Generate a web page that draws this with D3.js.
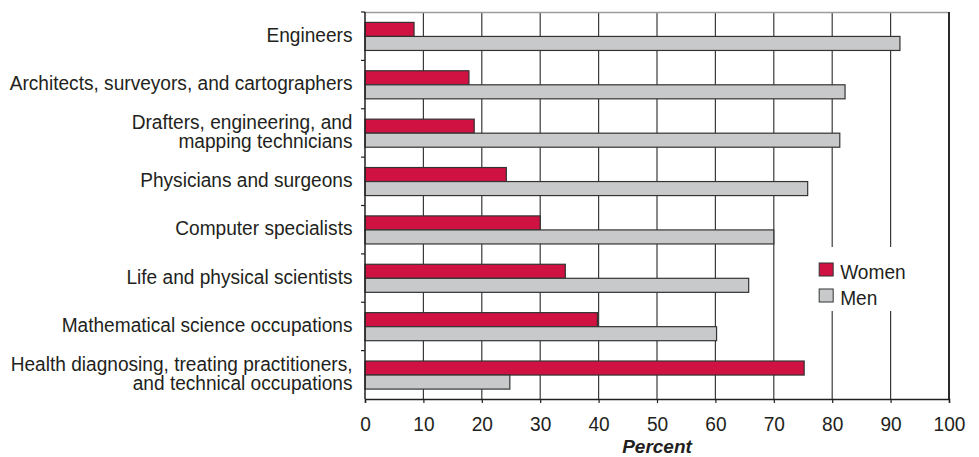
<!DOCTYPE html>
<html>
<head>
<meta charset="utf-8">
<script src="https://cdn.jsdelivr.net/npm/d3@7"></script>
<style>
  body { margin: 0; background: #fff; }
  svg { display: block; }
  text { font-family: "Liberation Sans", Arial, sans-serif; fill: #231f20; }
</style>
</head>
<body>
<div id="chart"></div>
<script>
const categories = [
  "Engineers",
  "Architects, surveyors, and cartographers",
  "Drafters, engineering, and\nmapping technicians",
  "Physicians and surgeons",
  "Computer specialists",
  "Life and physical scientists",
  "Mathematical science occupations",
  "Health diagnosing, treating practitioners,\nand technical occupations"
];
const women = [8.4, 17.8, 18.7, 24.2, 30.0, 34.3, 39.8, 75.2];
const men = [91.6, 82.2, 81.3, 75.8, 70.0, 65.7, 60.2, 24.8];
const seriesNames = ["Women", "Men"];
const seriesColors = ["#cf1242", "#c8c9cb"];
const xTicks = [0, 10, 20, 30, 40, 50, 60, 70, 80, 90, 100];

const W = 979, H = 457;
const margin = { top: 12, right: 30, bottom: 58, left: 365 };
const width = W - margin.left - margin.right,
  height = H - margin.top - margin.bottom;
const squeeze = "scale(0.91,1)";

const svg = d3
  .select("#chart")
  .append("svg")
  .attr("width", W)
  .attr("height", H)
  .append("g")
  .attr("transform", `translate(${margin.left}, ${margin.top})`);

const x = d3.scaleLinear().domain([0, 100]).range([0, width]);
const y = d3.scaleBand().domain(categories).range([0, height]).padding(0);
const band = y.bandwidth();
const sub = d3.scaleBand().domain(seriesNames).range([band * 0.215, band * 0.795]).padding(0);

// vertical gridlines
svg
  .selectAll(".grid")
  .data(xTicks.slice(1, -1))
  .join("line")
  .attr("x1", (d) => x(d))
  .attr("x2", (d) => x(d))
  .attr("y1", 0)
  .attr("y2", height)
  .attr("stroke", "#3a3a3a")
  .attr("stroke-width", 1.2);

// top border
svg
  .append("line")
  .attr("x1", 0)
  .attr("x2", width)
  .attr("y1", 0.5)
  .attr("y2", 0.5)
  .attr("stroke", "#9a9c9e")
  .attr("stroke-width", 1.5);

// right border
svg
  .append("line")
  .attr("x1", x(100))
  .attr("x2", x(100))
  .attr("y1", 0)
  .attr("y2", height)
  .attr("stroke", "#2a2a2a")
  .attr("stroke-width", 2);

// bars
const rows = categories.map((c, i) => ({ cat: c, vals: [women[i], men[i]] }));
const g = svg
  .selectAll(".row")
  .data(rows)
  .join("g")
  .attr("transform", (d) => `translate(0, ${y(d.cat)})`);

g.selectAll("rect")
  .data((d) => d.vals.map((v, j) => ({ s: seriesNames[j], v: v, j: j })))
  .join("rect")
  .attr("x", x(0))
  .attr("y", (d) => sub(d.s))
  .attr("width", (d) => x(d.v) - x(0))
  .attr("height", sub.bandwidth())
  .attr("fill", (d) => seriesColors[d.j])
  .attr("stroke", "#333")
  .attr("stroke-width", 1.2);

// y axis: line with boundary ticks
const yAxis = svg.append("g");
yAxis
  .append("line")
  .attr("x1", 0)
  .attr("x2", 0)
  .attr("y1", 0)
  .attr("y2", height)
  .attr("stroke", "#231f20")
  .attr("stroke-width", 1.5);
yAxis
  .selectAll(".bt")
  .data(categories)
  .join("line")
  .attr("x1", -4)
  .attr("x2", 0)
  .attr("y1", (d) => y(d))
  .attr("y2", (d) => y(d))
  .attr("stroke", "#231f20")
  .attr("stroke-width", 1.2);

// category labels
const labels = svg
  .selectAll(".lab")
  .data(categories)
  .join("text")
  .attr("text-anchor", "end")
  .attr("font-size", 21)
  .attr("transform", (d) => `translate(-12.5, ${y(d) + band / 2}) ${squeeze}`);
labels.each(function (d) {
  const lines = d.split("\n");
  const t = d3.select(this);
  const lh = 19;
  const y0 = 5.8 - ((lines.length - 1) * lh) / 2;
  lines.forEach((ln, k) => {
    t.append("tspan").attr("x", 0).attr("y", y0 + k * lh).text(ln);
  });
});

// x axis
const xAxis = svg
  .append("g")
  .attr("transform", `translate(0, ${height})`)
  .call(d3.axisBottom(x).tickValues(xTicks).tickSize(4).tickPadding(13).tickFormat(d3.format("d")));
xAxis.select(".domain").attr("stroke", "#231f20").attr("stroke-width", 1.5);
xAxis.selectAll(".tick line").attr("stroke", "#231f20").attr("stroke-width", 1.2);
xAxis
  .selectAll(".tick text")
  .attr("font-size", 21)
  .attr("font-family", "'Liberation Sans', Arial, sans-serif")
  .attr("fill", "#231f20")
  .attr("transform", squeeze);

svg
  .append("text")
  .attr("x", width / 2)
  .attr("y", height + 54)
  .attr("text-anchor", "middle")
  .attr("font-size", 19)
  .attr("font-weight", "bold")
  .attr("font-style", "italic")
  .text("Percent");

// legend
const lg = svg.append("g").attr("transform", `translate(${x(76.4)}, ${235})`);
lg.append("rect")
  .attr("x", 0)
  .attr("y", 0)
  .attr("width", 103)
  .attr("height", 64)
  .attr("fill", "#fff");
const li = lg
  .selectAll(".li")
  .data(seriesNames)
  .join("g")
  .attr("transform", (d, i) => `translate(8, ${16 + i * 26})`);
li.append("rect")
  .attr("width", 14)
  .attr("height", 13)
  .attr("fill", (d, i) => seriesColors[i])
  .attr("stroke", "#333")
  .attr("stroke-width", 1);
li.append("text")
  .attr("transform", `translate(21, 16) ${squeeze}`)
  .attr("font-size", 21)
  .text((d) => d);
</script>
</body>
</html>
